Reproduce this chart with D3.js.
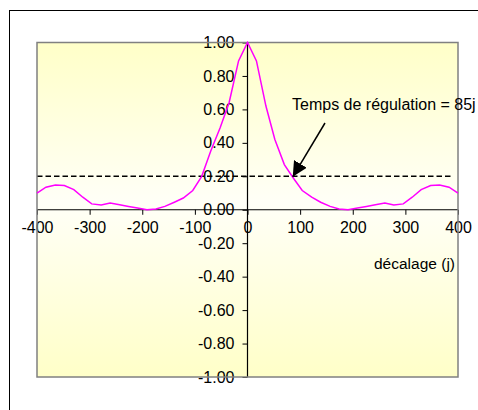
<!DOCTYPE html>
<html>
<head>
<meta charset="utf-8">
<script src="https://cdn.jsdelivr.net/npm/d3@7"></script>
<style>
  html, body { margin: 0; padding: 0; background: #ffffff; }
  svg { display: block; font-family: Arial, "Liberation Sans", sans-serif; }
</style>
</head>
<body>
<svg id="chart" width="478" height="410"></svg>
<script>
// ---- data ----
const lags = [-400,-383,-365,-348,-330,-313,-296,-278,-261,-243,-226,-209,-191,-174,-157,-139,-122,-104,-87,-70,-52,-35,-17,
              0,17,35,52,70,87,104,122,139,157,174,191,209,226,243,261,278,296,313,330,348,365,383,400];
const correlation = [0.10,0.135,0.148,0.145,0.12,0.075,0.035,0.028,0.04,0.03,0.02,0.01,0.0,0.005,0.02,0.045,0.07,0.115,0.20,0.35,0.49,0.64,0.89,
              1.0,0.89,0.62,0.42,0.27,0.19,0.115,0.075,0.045,0.02,0.005,0.0,0.01,0.02,0.03,0.04,0.028,0.035,0.075,0.12,0.145,0.148,0.135,0.10];
const xTicks = [-400,-300,-200,-100,0,100,200,300,400];
const yTicks = [-1,-0.8,-0.6,-0.4,-0.2,0,0.2,0.4,0.6,0.8,1];
const thresholdValue = 0.2;
const thresholdRange = [-400, 390];
const regulationLag = 85;
const annotationText = "Temps de régulation = 85j";
const xAxisTitle = "décalage (j)";

// ---- layout ----
const svg = d3.select("#chart");
const plot = {left: 37, right: 458, top: 42.5, bottom: 377};

const x = d3.scaleLinear().domain([-400, 400]).range([plot.left, plot.right]);
const y = d3.scaleLinear().domain([-1, 1]).range([plot.bottom, plot.top]);

// outer chart border
svg.append("rect")
  .attr("x", 9.5).attr("y", 10.5)
  .attr("width", 500).attr("height", 500)
  .attr("fill", "#ffffff").attr("stroke", "#000000").attr("stroke-width", 1);

// gradient background
const defs = svg.append("defs");
const grad = defs.append("linearGradient").attr("id", "bg")
  .attr("x1", 0).attr("y1", 0).attr("x2", 0).attr("y2", 1);
grad.append("stop").attr("offset", "0%").attr("stop-color", "#FFFFC8");
grad.append("stop").attr("offset", "48%").attr("stop-color", "#FFFFF7");
grad.append("stop").attr("offset", "100%").attr("stop-color", "#FFFFC8");

svg.append("rect")
  .attr("x", plot.left).attr("y", plot.top)
  .attr("width", plot.right - plot.left).attr("height", plot.bottom - plot.top)
  .attr("fill", "url(#bg)");

// threshold dashed line
svg.append("line")
  .attr("x1", x(thresholdRange[0])).attr("x2", x(thresholdRange[1]))
  .attr("y1", y(thresholdValue)).attr("y2", y(thresholdValue))
  .attr("stroke", "#000000").attr("stroke-width", 1.5)
  .attr("stroke-dasharray", "5.5,3");

// axes
const yAxis = d3.axisLeft(y).tickValues(yTicks).tickSize(5).tickPadding(8)
  .tickFormat(d3.format(".2f"));
const gy = svg.append("g").attr("transform", `translate(${x(0)},0)`).call(yAxis);
gy.select(".domain").attr("d", `M0,${plot.top}V${plot.bottom}`).attr("stroke", "#000").attr("stroke-width", 1.2);
gy.selectAll("line").attr("stroke", "#000");
gy.selectAll("text").attr("font-size", 16).attr("fill", "#000")
  .attr("font-family", "Arial, 'Liberation Sans', sans-serif")
  .text(d => d3.format(".2f")(d).replace("−", "-"));

const xAxis = d3.axisBottom(x).tickValues(xTicks).tickSize(5).tickPadding(7)
  .tickFormat(d => String(d));
const gx = svg.append("g").attr("transform", `translate(0,${y(0)})`).call(xAxis);
gx.select(".domain").attr("d", `M${plot.left},0H${plot.right}`).attr("stroke", "#000").attr("stroke-width", 1.2);
gx.selectAll("line").attr("stroke", "#000");
gx.selectAll("text").attr("font-size", 16).attr("fill", "#000")
  .attr("font-family", "Arial, 'Liberation Sans', sans-serif");

// plot border (gray)
svg.append("rect")
  .attr("x", plot.left).attr("y", plot.top)
  .attr("width", plot.right - plot.left).attr("height", plot.bottom - plot.top)
  .attr("fill", "none").attr("stroke", "#808080").attr("stroke-width", 1.5);

// correlation curve
const line = d3.line().x((d, i) => x(lags[i])).y(d => y(d));
svg.append("path")
  .datum(correlation)
  .attr("d", line)
  .attr("fill", "none")
  .attr("stroke", "#FF00FF")
  .attr("stroke-width", 1.5);

// axis title
svg.append("text")
  .attr("x", 455).attr("y", 269)
  .attr("text-anchor", "end")
  .attr("font-size", 15.5)
  .text(xAxisTitle);

// annotation
svg.append("text")
  .attr("x", 292).attr("y", 110)
  .attr("font-size", 16)
  .text(annotationText);

defs.append("marker").attr("id", "arrow")
  .attr("viewBox", "0 0 10 10").attr("refX", 10).attr("refY", 5)
  .attr("markerWidth", 15).attr("markerHeight", 15)
  .attr("markerUnits", "userSpaceOnUse")
  .attr("orient", "auto")
  .append("path").attr("d", "M0,0L10,5L0,10Z").attr("fill", "#000");

svg.append("line")
  .attr("x1", 325).attr("y1", 123)
  .attr("x2", x(regulationLag) + 0.5).attr("y2", y(thresholdValue) + 0.5)
  .attr("stroke", "#000").attr("stroke-width", 1.5)
  .attr("marker-end", "url(#arrow)");
</script>
</body>
</html>
